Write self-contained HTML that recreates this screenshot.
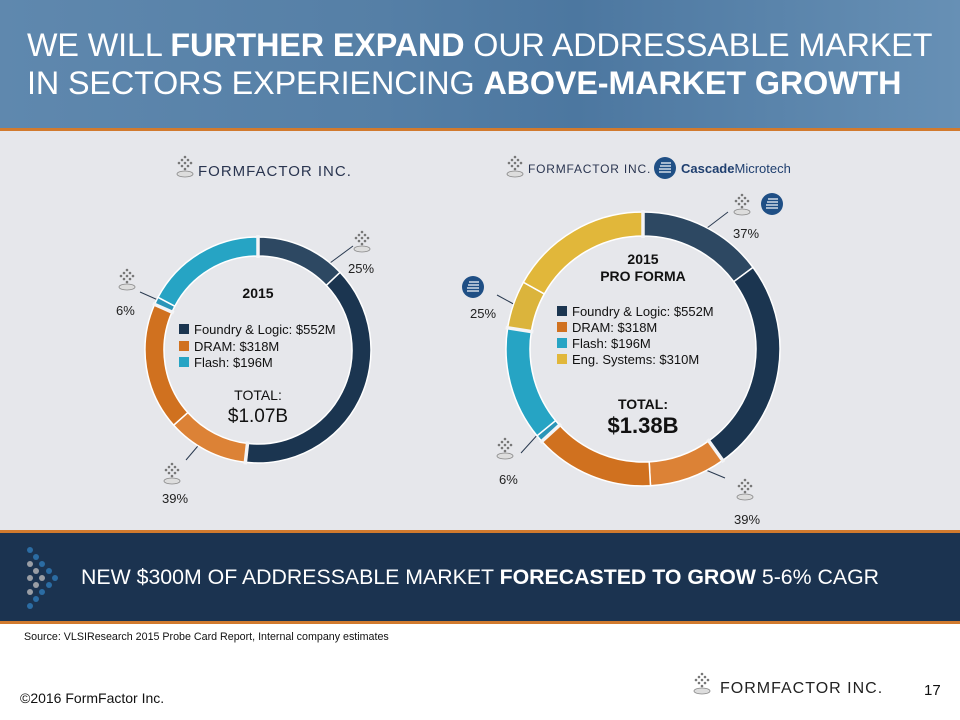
<!DOCTYPE html>
<html><head><meta charset="utf-8">
<style>
body{margin:0;width:960px;height:720px;overflow:hidden;background:#fff;font-family:"Liberation Sans",Arial,sans-serif;position:relative}
.abs{position:absolute}
#header{left:0;top:0;width:960px;height:128px;background:linear-gradient(90deg,#5f88ae 0%,#557fa6 40%,#4c77a0 60%,#6790b5 100%)}
#title{left:27px;top:26px;color:#fff;font-size:32.3px;line-height:38px;letter-spacing:-0.1px;white-space:nowrap}
#line1{left:0;top:128px;width:960px;height:3px;background:#d17a2e}
#content{left:0;top:131px;width:960px;height:399px;background:#e6e7eb}
#line2{left:0;top:530px;width:960px;height:3px;background:#d17a2e}
#banner{left:0;top:533px;width:960px;height:88px;background:#1b3350}
#line3{left:0;top:621px;width:960px;height:3px;background:#d17a2e}
#banner-text{left:81px;top:565px;color:#fff;font-size:21.3px;white-space:nowrap}
#source{left:24px;top:631px;font-size:10.7px;color:#111;white-space:nowrap}
#copy{left:20px;top:690px;font-size:14px;color:#111}
#pagenum{left:924px;top:682px;font-size:15px;color:#111}
</style></head><body>
<div id="header" class="abs"></div>
<div id="title" class="abs">WE WILL <b>FURTHER EXPAND</b> OUR ADDRESSABLE MARKET<br>IN SECTORS EXPERIENCING <b>ABOVE-MARKET GROWTH</b></div>
<div id="line1" class="abs"></div>
<div id="content" class="abs"></div>
<div id="line2" class="abs"></div>
<div id="banner" class="abs"></div>
<div id="line3" class="abs"></div>
<svg class="abs" style="left:20px;top:545px" width="45" height="70">
<g fill="#2b6ca3"><circle cx="10" cy="5" r="3"/><circle cx="16" cy="12" r="3"/><circle cx="22" cy="19" r="3"/><circle cx="29" cy="26" r="3"/><circle cx="35" cy="33" r="3"/><circle cx="29" cy="40" r="3"/><circle cx="22" cy="47" r="3"/><circle cx="16" cy="54" r="3"/><circle cx="10" cy="61" r="3"/></g>
<g fill="#9a9ea5"><circle cx="10" cy="19" r="3"/><circle cx="16" cy="26" r="3"/><circle cx="10" cy="33" r="3"/><circle cx="22" cy="33" r="3"/><circle cx="16" cy="40" r="3"/><circle cx="10" cy="47" r="3"/></g></svg>
<div id="banner-text" class="abs">NEW $300M OF ADDRESSABLE MARKET <b>FORECASTED TO GROW</b> 5-6% CAGR</div>
<div id="source" class="abs">Source: VLSIResearch 2015 Probe Card Report, Internal company estimates</div>
<div id="copy" class="abs">©2016 FormFactor Inc.</div>
<div id="pagenum" class="abs">17</div>

<svg class="abs" style="left:0;top:0" width="960" height="720" id="charts">
<defs>
<g id="ffmark"><g fill="#777"><circle cx="0" cy="-8" r="1.3"/><circle cx="-3" cy="-5" r="1.3"/><circle cx="3" cy="-5" r="1.3"/><circle cx="-6" cy="-2" r="1.3"/><circle cx="0" cy="-2" r="1.3"/><circle cx="6" cy="-2" r="1.3"/><circle cx="-3" cy="1" r="1.3"/><circle cx="3" cy="1" r="1.3"/><circle cx="0" cy="4" r="1.3"/></g><ellipse cx="0" cy="9" rx="8" ry="3" fill="#ddd" stroke="#888" stroke-width="0.8"/></g>
<g id="cmmark"><circle r="11" fill="#1f4f85"/><g stroke="#fff" stroke-width="1.2"><line x1="-4" y1="-5" x2="6" y2="-5"/><line x1="-5" y1="-2" x2="6" y2="-2"/><line x1="-6" y1="1" x2="6" y2="1"/><line x1="-6" y1="4" x2="6" y2="4"/></g></g>
</defs>
<g><use href="#ffmark" x="185" y="165"/><text x="198" y="176" font-size="15" fill="#2a3550" letter-spacing="1">FORMFACTOR INC.</text></g>
<g><use href="#ffmark" x="515" y="165"/><text x="528" y="173" font-size="12" fill="#2a3550" letter-spacing="0.8">FORMFACTOR INC.</text></g>
<g><use href="#cmmark" x="665" y="168"/><text x="681" y="173" font-size="13" fill="#1f3f6f"><tspan font-weight="bold">Cascade</tspan>Microtech</text></g>
<g><use href="#ffmark" x="702" y="682"/><text x="720" y="693" font-size="16" fill="#222" letter-spacing="1">FORMFACTOR INC.</text></g>
<g>
<use href="#ffmark" x="362" y="240"/><use href="#ffmark" x="127" y="278"/><use href="#ffmark" x="172" y="472"/>
<use href="#ffmark" x="742" y="203"/><use href="#cmmark" x="772" y="204"/><use href="#cmmark" x="473" y="287"/><use href="#ffmark" x="505" y="447"/><use href="#ffmark" x="745" y="488"/>
</g>
<g stroke="#2a3a50" stroke-width="1">
<line x1="330" y1="263" x2="353" y2="246"/><line x1="140" y1="292" x2="158" y2="300"/><line x1="186" y1="460" x2="203" y2="440"/>
<line x1="707" y1="228" x2="728" y2="212"/><line x1="497" y1="295" x2="519" y2="307"/><line x1="521" y1="453" x2="540" y2="432"/><line x1="701" y1="468" x2="725" y2="478"/>
</g>
<g font-size="13" fill="#222">
<text x="348" y="273">25%</text><text x="116" y="315">6%</text><text x="162" y="503">39%</text>
<text x="733" y="238">37%</text><text x="470" y="318">25%</text><text x="499" y="484">6%</text><text x="734" y="524">39%</text>
</g>
<g id="donuts"></g>
<g>
<text x="258" y="298" font-size="14" font-weight="bold" text-anchor="middle" fill="#111">2015</text>
<rect x="179" y="324" width="10" height="10" fill="#1b3550"/><text x="194" y="334" font-size="13" fill="#111">Foundry &amp; Logic: $552M</text>
<rect x="179" y="341" width="10" height="10" fill="#d0711f"/><text x="194" y="351" font-size="13" fill="#111">DRAM: $318M</text>
<rect x="179" y="357" width="10" height="10" fill="#26a4c4"/><text x="194" y="367" font-size="13" fill="#111">Flash: $196M</text>
<text x="258" y="400" font-size="14" text-anchor="middle" fill="#111">TOTAL:</text>
<text x="258" y="422" font-size="19" text-anchor="middle" fill="#111">$1.07B</text>
</g>
<g>
<text x="643" y="264" font-size="14" font-weight="bold" text-anchor="middle" fill="#111">2015</text>
<text x="643" y="281" font-size="14" font-weight="bold" text-anchor="middle" fill="#111">PRO FORMA</text>
<rect x="557" y="306" width="10" height="10" fill="#1b3550"/><text x="572" y="316" font-size="13" fill="#111">Foundry &amp; Logic: $552M</text>
<rect x="557" y="322" width="10" height="10" fill="#d0711f"/><text x="572" y="332" font-size="13" fill="#111">DRAM: $318M</text>
<rect x="557" y="338" width="10" height="10" fill="#26a4c4"/><text x="572" y="348" font-size="13" fill="#111">Flash: $196M</text>
<rect x="557" y="354" width="10" height="10" fill="#e1b73a"/><text x="572" y="364" font-size="13" fill="#111">Eng. Systems: $310M</text>
<text x="643" y="409" font-size="14" font-weight="bold" text-anchor="middle" fill="#111">TOTAL:</text>
<text x="643" y="433" font-size="22" font-weight="bold" text-anchor="middle" fill="#111">$1.38B</text>
</g>
</svg>
<script>
// Left donut (2015)
const leftCategories = ["Foundry & Logic", "DRAM", "Flash"];
const leftValues = [552, 318, 196];
const leftSharePct = [25, 39, 6];
// Right donut (2015 pro forma)
const rightCategories = ["Foundry & Logic", "DRAM", "Flash", "Eng. Systems"];
const rightValues = [552, 318, 196, 310];
const rightSharePct = [37, 39, 6, 25];

const mainColors = ["#1b3550", "#d0711f", "#26a4c4", "#e1b73a"];
const subColors = ["#2d4862", "#dc8236", "#2b95b8", "#dbb43c"];

function pt(cx, cy, r, a){ return [cx + r*Math.sin(a), cy - r*Math.cos(a)]; }
function arc(cx, cy, r0, r1, a0, a1){
  const [x0,y0]=pt(cx,cy,r1,a0),[x1,y1]=pt(cx,cy,r1,a1),[x2,y2]=pt(cx,cy,r0,a1),[x3,y3]=pt(cx,cy,r0,a0);
  const large = (a1-a0) > Math.PI ? 1 : 0;
  return `M${x0},${y0}A${r1},${r1} 0 ${large} 1 ${x1},${y1}L${x2},${y2}A${r0},${r0} 0 ${large} 0 ${x3},${y3}Z`;
}
const NS = "http://www.w3.org/2000/svg";
function drawDonut(cats, vals, shares, cx, cy, r0, r1, name){
  const g = document.createElementNS(NS, "g");
  
  
  document.getElementById("donuts").appendChild(g);
  const total = vals.reduce((a,b)=>a+b,0);
  let a = 0;
  vals.forEach((v,i)=>{
    const span = v/total*2*Math.PI;
    const split = a + span*shares[i]/100;
    const p1 = document.createElementNS(NS, "path");
    
    
    p1.setAttribute("d", arc(cx,cy,r0,r1,a,split));
    p1.setAttribute("fill", subColors[i]);
    p1.setAttribute("stroke", "#fff"); p1.setAttribute("stroke-width", "1.5");
    g.appendChild(p1);
    const p2 = document.createElementNS(NS, "path");
    
    
    p2.setAttribute("d", arc(cx,cy,r0,r1,split,a+span));
    p2.setAttribute("fill", mainColors[i]);
    p2.setAttribute("stroke", "#fff"); p2.setAttribute("stroke-width", "1.5");
    g.appendChild(p2);
    a += span;
  });
  a = 0;
  vals.forEach((v)=>{
    const [x0,y0]=pt(cx,cy,r0-2,a),[x1,y1]=pt(cx,cy,r1+2,a);
    const l = document.createElementNS(NS, "line");
    
    
    l.setAttribute("x1",x0);l.setAttribute("y1",y0);l.setAttribute("x2",x1);l.setAttribute("y2",y1);
    l.setAttribute("stroke","#f4f4f6");l.setAttribute("stroke-width","3.5");
    g.appendChild(l);
    a += v/total*2*Math.PI;
  });
}
drawDonut(leftCategories, leftValues, leftSharePct, 258, 350, 94, 113, "left-donut");
drawDonut(rightCategories, rightValues, rightSharePct, 643, 349, 113, 137, "right-donut");
</script>
</body></html>
